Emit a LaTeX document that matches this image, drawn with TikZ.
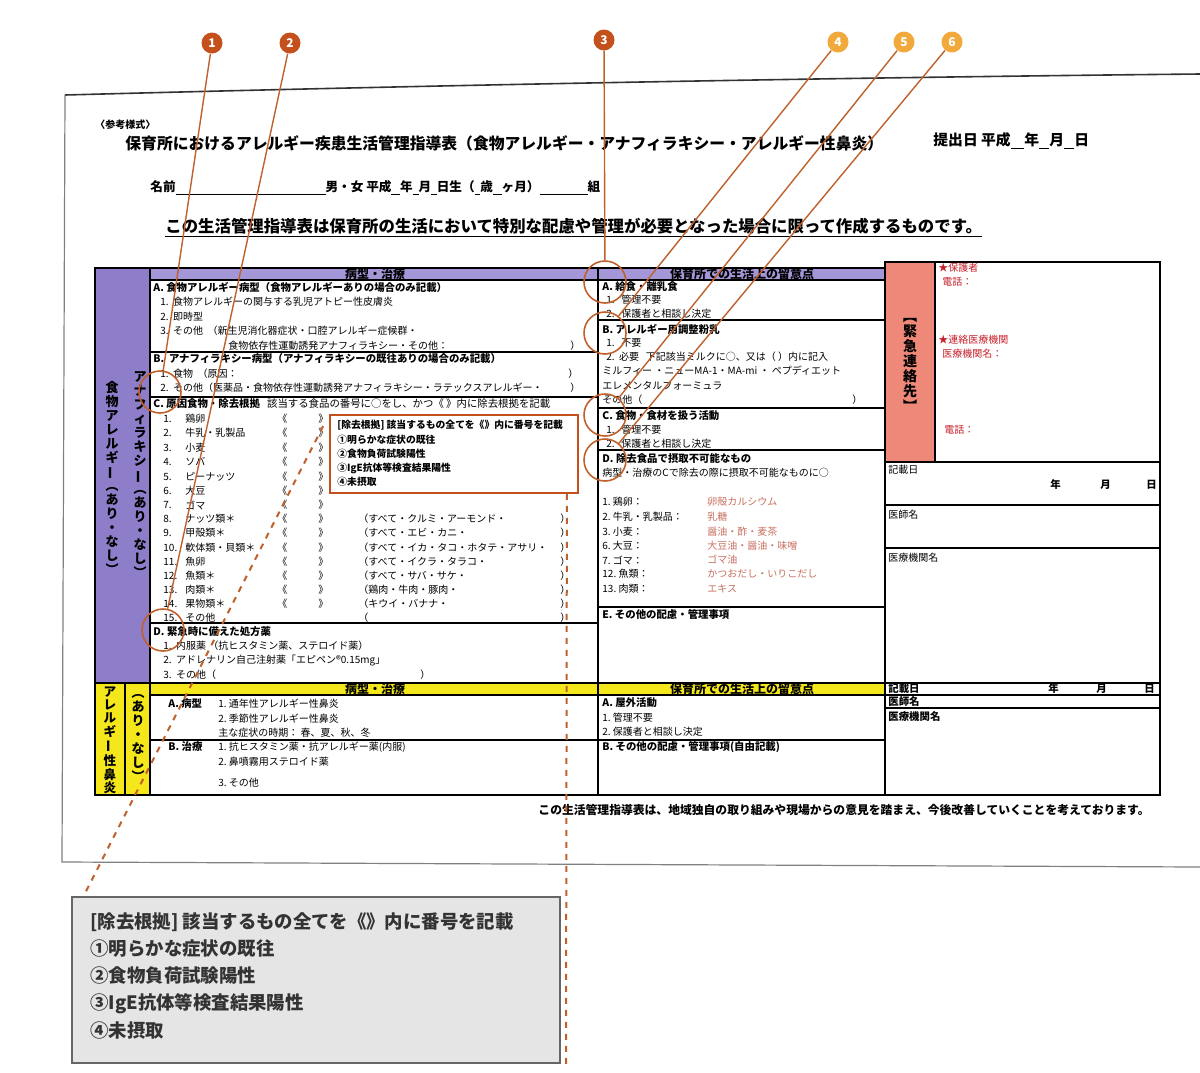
\documentclass[tikz,border=0pt]{standalone}
\usepackage{fontspec}
\setmainfont{Noto Sans CJK JP}
\usetikzlibrary{calc}
\definecolor{purp}{HTML}{8E7DC9}
\definecolor{purph}{HTML}{A596D8}
\definecolor{yel}{HTML}{F4E81C}
\definecolor{salm}{HTML}{EE8878}
\definecolor{mdark}{HTML}{C4501C}
\definecolor{mlight}{HTML}{F2A93B}
\definecolor{lead}{HTML}{C0602A}
\definecolor{redt}{HTML}{C8202A}
\definecolor{pinkt}{HTML}{C87060}
\newcommand\vl{\rotatebox[origin=c]{90}{ー}}
\tikzset{
  t/.style={anchor=west,inner sep=0,font=\fontsize{5}{6}\selectfont},
  tb/.style={t,font=\fontsize{5.2}{6}\bfseries\selectfont},
  hd/.style={inner sep=0,font=\fontsize{6}{7}\bfseries\selectfont},
  grid/.style={draw=black,line width=0.6pt},
  marker/.style={circle,inner sep=0,minimum size=10.5pt,text=white,font=\fontsize{6}{6}\bfseries\selectfont},
  ring/.style={circle,draw=lead,line width=0.8pt,minimum size=21pt,inner sep=0},
  leadline/.style={lead,line width=0.7pt},
  dashlead/.style={lead,line width=1pt,dashed},
  vtext/.style={inner sep=0,align=center,font=\fontsize{6.5}{7}\bfseries\selectfont}
}
\begin{document}
\begin{tikzpicture}[x=0.5pt,y=-0.5pt]
\useasboundingbox (0,0) rectangle (1200,1072);
% paper
\fill[white] (65,95) .. controls (400,86) and (800,78) .. (1200,74) -- (1200,867) -- (62,862) -- cycle;
\draw[black!80,line width=0.8pt] (65,95) .. controls (400,86) and (800,78) .. (1200,74);
\draw[black!50,line width=0.6pt] (65,95) -- (62,862) -- (1200,867);
% header texts
\node[t,font=\fontsize{5}{6}\bfseries\selectfont] (ref) at (95,125) {〈参考様式〉};
\node[t,font=\fontsize{7.9}{9}\bfseries\selectfont] (title) at (125,143) {保育所におけるアレルギー疾患生活管理指導表（食物アレルギー・アナフィラキシー・アレルギー性鼻炎）};
\node[t,font=\fontsize{7.4}{9}\bfseries\selectfont] (date) at (933,141) {提出日\ 平成\underline{\ \ \ \ }年\underline{\ \ \ }月\underline{\ \ \ }日};
\node[t,font=\fontsize{6.3}{8}\bfseries\selectfont] (name) at (150,188) {名前\underline{\hspace{75pt}}男・女\ 平成\underline{\ \ \ }年\underline{\ \ }月\underline{\ \ }日生（\underline{\ \ }歳\underline{\ \ \ }ヶ月）\underline{\hspace{24pt}}組};
\node[t,font=\fontsize{8.2}{10}\bfseries\selectfont] (note) at (165,228) {\underline{この生活管理指導表は保育所の生活において特別な配慮や管理が必要となった場合に限って作成するものです。}};
% fills
\fill[purp] (95,268) rectangle (150,683);
\fill[purph] (150,268) rectangle (885,280);
\fill[salm] (885,262) rectangle (935,462);
\fill[yel] (95,683) rectangle (150,795);
\fill[yel] (150,683) rectangle (885,695);
% grid
\draw[grid] (95,268) rectangle (885,795);
\draw[grid] (885,262) rectangle (1160,795);
\draw[grid] (150,268) -- (150,795);
\draw[grid] (598,268) -- (598,795);
\draw[grid] (935,262) -- (935,462);
\draw[grid] (885,462) -- (1160,462);
\draw[grid] (150,280) -- (885,280);
\draw[grid] (150,352) -- (598,352);
\draw[grid] (150,397) -- (598,397);
\draw[grid] (150,623) -- (598,623);
\draw[grid] (598,320) -- (885,320);
\draw[grid] (598,408) -- (885,408);
\draw[grid] (598,450) -- (885,450);
\draw[grid] (598,607) -- (885,607);
\draw[grid] (885,505) -- (1160,505);
\draw[grid] (885,548) -- (1160,548);
\draw[grid] (95,683) -- (1160,683);
\draw[grid] (150,695) -- (885,695);
\draw[grid] (125,683) -- (125,795);
\draw[grid] (150,740) -- (885,740);
\draw[grid] (885,695) -- (1160,695);
\draw[grid] (885,708) -- (1160,708);
% vertical texts
\node[vtext] (v1) at (112,478) {食\\物\\ア\\レ\\ル\\ギ\\\vl\\︵\\あ\\り\\・\\な\\し\\︶};
\node[vtext] (v2) at (140,475) {ア\\ナ\\フ\\ィ\\ラ\\キ\\シ\\\vl\\︵\\あ\\り\\・\\な\\し\\︶};
\node[vtext,font=\fontsize{7}{7.5}\bfseries\selectfont] (v3) at (910,365) {︻\\緊\\急\\連\\絡\\先\\︼};
\node[vtext,font=\fontsize{6.3}{6.7}\bfseries\selectfont] (v4) at (110,740) {ア\\レ\\ル\\ギ\\\vl\\性\\鼻\\炎};
\node[vtext] (v5) at (138,738) {︵\\あ\\り\\・\\な\\し\\︶};
% headers
\node[hd] (h1) at (375,274) {病型・治療};
\node[hd] (h2) at (742,274) {保育所での生活上の留意点};
\node[hd] (h3) at (375,689) {病型・治療};
\node[hd] (h4) at (742,689) {保育所での生活上の留意点};
% left A/B
\node[tb] (a0) at (153,287) {A.\ 食物アレルギー病型（食物アレルギーありの場合のみ記載）};
\node[t] (a1) at (160,302) {1.\ \ 食物アレルギーの関与する乳児アトピー性皮膚炎};
\node[t] (a2) at (160,317) {2.\ \ 即時型};
\node[t] (a3) at (160,331) {3.\ \ その他\ \ （新生児消化器症状・口腔アレルギー症候群・};
\node[t] (a4) at (228,346) {食物依存性運動誘発アナフィラキシー・その他：};
\node[t] (a4p) at (570,346) {）};
\node[tb] (b0) at (153,359) {B.\ \ アナフィラキシー病型（アナフィラキシーの既往ありの場合のみ記載）};
\node[t] (b1) at (160,374) {1.\ \ 食物\ \ （原因：};
\node[t] (b1p) at (568,374) {）};
\node[t] (b2) at (160,388) {2.\ \ その他（医薬品・食物依存性運動誘発アナフィラキシー・ラテックスアレルギー・};
\node[t] (b2p) at (570,388) {）};
\node[tb] (c0) at (153,404) {C.\ 原因食物・除去根拠\ \ \ {\mdseries 該当する食品の番号に○をし、かつ《\ 》内に除去根拠を記載}};
\foreach \n/\f/\yy in {1/鶏卵/419,2/牛乳・乳製品/433,3/小麦/448,4/ソバ/462,5/ピーナッツ/477,6/大豆/491,7/ゴマ/505,8/ナッツ類＊/519,9/甲殻類＊/533,10/軟体類・貝類＊/548,11/魚卵/562,12/魚類＊/576,13/肉類＊/590,14/果物類＊/604}{
  \node[t] (cn\n) at (163,\yy) {\n.};
  \node[t] (cf\n) at (185,\yy) {\f};
  \node[t] (cl\n) at (277,\yy) {《};
  \node[t] (cr\n) at (318,\yy) {》};
}
\node[t] (cn15) at (163,618) {15.};
\node[t] (cf15) at (185,618) {その他};
\foreach \k/\s/\yy in {8/（すべて・クルミ・アーモンド・/519,9/（すべて・エビ・カニ・/533,10/（すべて・イカ・タコ・ホタテ・アサリ・/548,11/（すべて・イクラ・タラコ・/562,12/（すべて・サバ・サケ・/576,13/（鶏肉・牛肉・豚肉・/590,14/（キウイ・バナナ・/604,15/（/618}{
  \node[t] (cp\k) at (358,\yy) {\s};
  \node[t] (cq\k) at (560,\yy) {）};
}
\node[tb] (d0) at (153,632) {D.\ 緊急時に備えた処方薬};
\node[t] (d1) at (163,646) {1.\ \ 内服薬\ （抗ヒスタミン薬、ステロイド薬）};
\node[t] (d2) at (163,661) {2.\ \ アドレナリン自己注射薬「エピペン®0.15mg」};
\node[t] (d3) at (163,675) {3.\ \ その他（};
\node[t] (d3p) at (420,675) {）};
% small box
\node[draw=mdark,line width=0.9pt,fill=white,minimum width=124,minimum height=39,inner sep=0] (sb) at (454,454) {};
\node[anchor=north west,inner sep=0,align=left,font=\fontsize{4.9}{7.1}\bfseries\selectfont] (sbt) at (337,420) {[除去根拠] 該当するもの全てを《》内に番号を記載\\①明らかな症状の既往\\②食物負荷試験陽性\\③IgE抗体等検査結果陽性\\④未摂取};
% right column
\node[tb] (ra0) at (602,287) {A.\ 給食・離乳食};
\node[t] (ra1) at (606,300) {1.\ \ \ 管理不要};
\node[t] (ra2) at (606,314) {2.\ \ \ 保護者と相談し決定};
\node[tb] (rb0) at (602,329) {B.\ アレルギー用調整粉乳};
\node[t] (rb1) at (606,343) {1.\ \ \ 不要};
\node[t] (rb2) at (606,357) {2.\ \ 必要\ \ \ 下記該当ミルクに○、又は（\ ）内に記入};
\node[t] (rb3) at (602,371) {ミルフィー\ ・ニューMA-1・MA-mi\ ・\ ペプディエット};
\node[t] (rb4) at (602,386) {エレメンタルフォーミュラ};
\node[t] (rb5) at (602,400) {その他（};
\node[t] (rb5p) at (852,400) {）};
\node[tb] (rc0) at (602,416) {C.\ 食物・食材を扱う活動};
\node[t] (rc1) at (606,430) {1.\ \ \ 管理不要};
\node[t] (rc2) at (606,444) {2.\ \ \ 保護者と相談し決定};
\node[tb] (rd0) at (602,459) {D.\ 除去食品で摂取不可能なもの};
\node[t] (rd1) at (602,473) {病型・治療のCで除去の際に摂取不可能なものに○};
\foreach \i/\a/\b/\yy in {1/1.\ 鶏卵：/卵殻カルシウム/502,2/2.\ 牛乳・乳製品：/乳糖/517,3/3.\ 小麦：/醤油・酢・麦茶/532,4/6.\ 大豆：/大豆油・醤油・味噌/546,5/7.\ ゴマ：/ゴマ油/560,6/12.\ 魚類：/かつおだし・いりこだし/574,7/13.\ 肉類：/エキス/589}{
  \node[t] (rl\i) at (602,\yy) {\a};
  \node[t,text=pinkt] (rv\i) at (707,\yy) {\b};
}
\node[tb] (re0) at (602,615) {E.\ その他の配慮・管理事項};
% emergency
\node[t,text=redt] (e1) at (938,268) {★保護者};
\node[t,text=redt] (e2) at (942,282) {電話：};
\node[t,text=redt] (e3) at (938,340) {★連絡医療機関};
\node[t,text=redt] (e4) at (942,354) {医療機関名：};
\node[t,text=redt] (e5) at (944,430) {電話：};
\node[t] (k1) at (888,470) {記載日};
\node[tb] (k2) at (1050,485) {年};
\node[tb] (k3) at (1100,485) {月};
\node[tb] (k4) at (1146,485) {日};
\node[t] (k5) at (888,515) {医師名};
\node[t] (k6) at (888,558) {医療機関名};
% rhinitis
\node[tb] (na0) at (168,704) {A.\ 病型};
\node[t] (na1) at (218,704) {1.\ 通年性アレルギー性鼻炎};
\node[t] (na2) at (218,719) {2.\ 季節性アレルギー性鼻炎};
\node[t] (na3) at (218,733) {主な症状の時期：\ 春、夏、秋、冬};
\node[tb] (nb0) at (168,747) {B.\ 治療};
\node[t] (nb1) at (218,747) {1.\ 抗ヒスタミン薬・抗アレルギー薬(内服)};
\node[t] (nb2) at (218,762) {2.\ 鼻噴霧用ステロイド薬};
\node[t] (nb3) at (218,783) {3.\ その他};
\node[tb] (nr0) at (602,703) {A.\ 屋外活動};
\node[t] (nr1) at (602,718) {1.\ 管理不要};
\node[t] (nr2) at (602,732) {2.\ 保護者と相談し決定};
\node[tb] (nr3) at (602,747) {B.\ その他の配慮・管理事項(自由記載)};
\node[tb] (m1) at (888,689) {記載日};
\node[tb] (m2) at (1048,689) {年};
\node[tb] (m3) at (1096,689) {月};
\node[tb] (m4) at (1144,689) {日};
\node[tb] (m5) at (888,702) {医師名};
\node[tb] (m6) at (888,717) {医療機関名};
\node[anchor=east,inner sep=0,font=\fontsize{5.9}{7}\bfseries\selectfont] (foot) at (1150,810) {この生活管理指導表は、地域独自の取り組みや現場からの意見を踏まえ、今後改善していくことを考えております。};
% big box
\node[draw=black!60,line width=0.6pt,fill=black!10,minimum width=244,minimum height=83,inner sep=0] (bb) at (316,980) {};
\node[anchor=north west,inner sep=0,align=left,font=\fontsize{9.2}{13.6}\bfseries\selectfont,text=black!80] (bbt) at (90,912) {[除去根拠] 該当するもの全てを《》内に番号を記載\\①明らかな症状の既往\\②食物負荷試験陽性\\③IgE抗体等検査結果陽性\\④未摂取};
% rings
\node[ring] (c1) at (160,392) {};
\node[ring] (c2) at (163,630) {};
\node[ring] (c3) at (605,282) {};
\node[ring] (c4) at (605,333) {};
\node[ring] (c5) at (605,415) {};
\node[ring] (c6) at (605,460) {};
% markers
\node[marker,fill=mdark] (p1) at (212,43) {1};
\node[marker,fill=mdark] (p2) at (290,43) {2};
\node[marker,fill=mdark] (p3) at (604,40) {3};
\node[marker,fill=mlight] (p4) at (838,42) {4};
\node[marker,fill=mlight] (p5) at (904,42) {5};
\node[marker,fill=mlight] (p6) at (952,42) {6};
\draw[leadline] (p1) -- (c1);
\draw[leadline] (p2) -- (c2);
\draw[leadline] (p3) -- (c3);
\draw[leadline] (p4) -- (c4);
\draw[leadline] (p5) -- (c5);
\draw[leadline] (p6) -- (c6);
% dashed leads
\coordinate (ds1) at ($(sb.north west)+(-6,12)$);
\coordinate (de1) at ($(bb.north west)+(12,0)$);
\draw[dashlead] (ds1) -- (de1);
\coordinate (ds2) at ($(sb.south east)+(-12,0)$);
\coordinate (de2) at (566,1066);
\draw[dashlead] (ds2) -- (de2);
\end{tikzpicture}
\end{document}
